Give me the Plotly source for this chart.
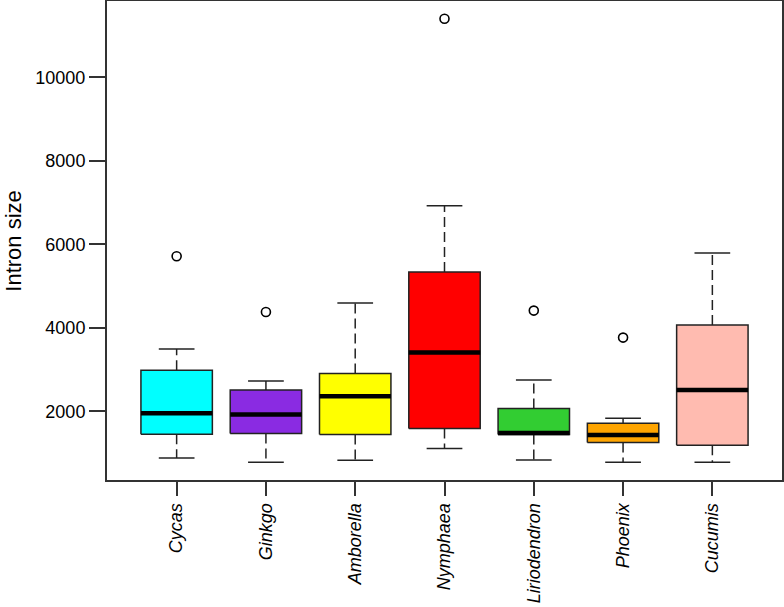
import plotly.graph_objects as go

species = ["Cycas", "Ginkgo", "Amborella", "Nymphaea", "Liriodendron", "Phoenix", "Cucumis"]
lower_whisker = [880, 780, 826, 1106, 834, 778, 778]
q1 = [1449, 1466, 1442, 1585, 1442, 1250, 1186]
median = [1950, 1921, 2359, 3406, 1480, 1432, 2510]
q3 = [2982, 2510, 2903, 5337, 2065, 1713, 4067]
upper_whisker = [3492, 2726, 4594, 6927, 2750, 1832, 5792]
outlier_species = ["Cycas", "Ginkgo", "Nymphaea", "Liriodendron", "Phoenix"]
outlier_values = [5713, 4378, 11406, 4412, 3765]
colors = ["#00FFFF", "#8A2BE2", "#FFFF00", "#FF0000", "#32CD32", "#FFA500", "#FFBBB0"]
y_ticks = [2000, 4000, 6000, 8000, 10000]

BOX_HALF = 0.4
CAP_HALF = 0.2
LINE_COL = "#222222"

fig = go.Figure()

for i, name in enumerate(species):
    xc = i + 1
    # whiskers (dashed)
    fig.add_trace(go.Scatter(
        x=[xc, xc, None, xc, xc],
        y=[q3[i], upper_whisker[i], None, q1[i], lower_whisker[i]],
        mode="lines", line=dict(color=LINE_COL, width=1.5, dash="10px,5px"),
        showlegend=False, hoverinfo="skip"))
    # caps
    fig.add_trace(go.Scatter(
        x=[xc - CAP_HALF, xc + CAP_HALF, None, xc - CAP_HALF, xc + CAP_HALF],
        y=[upper_whisker[i], upper_whisker[i], None, lower_whisker[i], lower_whisker[i]],
        mode="lines", line=dict(color=LINE_COL, width=1.5),
        showlegend=False, hoverinfo="skip"))
    # box
    fig.add_trace(go.Scatter(
        x=[xc - BOX_HALF, xc + BOX_HALF, xc + BOX_HALF, xc - BOX_HALF, xc - BOX_HALF],
        y=[q1[i], q1[i], q3[i], q3[i], q1[i]],
        mode="lines", fill="toself", fillcolor=colors[i],
        line=dict(color=LINE_COL, width=1.5),
        showlegend=False, name=name))
    # median
    fig.add_trace(go.Scatter(
        x=[xc - BOX_HALF, xc + BOX_HALF], y=[median[i], median[i]],
        mode="lines", line=dict(color="black", width=4.5),
        showlegend=False, hoverinfo="skip"))

fig.add_trace(go.Scatter(
    x=[species.index(s) + 1 for s in outlier_species], y=outlier_values,
    mode="markers",
    marker=dict(symbol="circle-open", size=9, color="black", line=dict(width=1.6)),
    showlegend=False))

font_family = "Liberation Sans, Arial, sans-serif"

fig.update_layout(
    width=784, height=607,
    margin=dict(l=107, r=2, t=1, b=127, autoexpand=False),
    plot_bgcolor="white", paper_bgcolor="white",
    font=dict(family=font_family, color="black"),
    xaxis=dict(
        range=[0.22, 7.78], tickmode="array", tickvals=list(range(1, len(species) + 1)),
        ticktext=species, tickangle=-90, automargin=False,
        tickfont=dict(size=18, style="italic", family=font_family, color="black"),
        ticks="outside", ticklen=14, tickwidth=1.5, tickcolor="#333333",
        showline=True, linecolor="#333333", linewidth=2, mirror=True,
        showgrid=False, zeroline=False),
    yaxis=dict(
        range=[353, 11831], tickmode="array", tickvals=y_ticks,
        ticktext=[str(v) for v in y_ticks], automargin=False,
        tickfont=dict(size=18, family=font_family, color="black"),
        ticks="outside", ticklen=16, tickwidth=1.5, tickcolor="#333333",
        showline=True, linecolor="#333333", linewidth=2, mirror=True,
        showgrid=False, zeroline=False),
    annotations=[dict(
        text="Intron size", xref="paper", yref="paper", x=-0.139, y=0.5,
        xanchor="center", yanchor="middle", textangle=-90, showarrow=False,
        font=dict(size=22, family=font_family, color="black"))],
)

fig.write_html(
    "out.html",
    config={"displayModeBar": False},
    post_script="document.body.style.margin='0';document.body.style.overflow='hidden';",
)
